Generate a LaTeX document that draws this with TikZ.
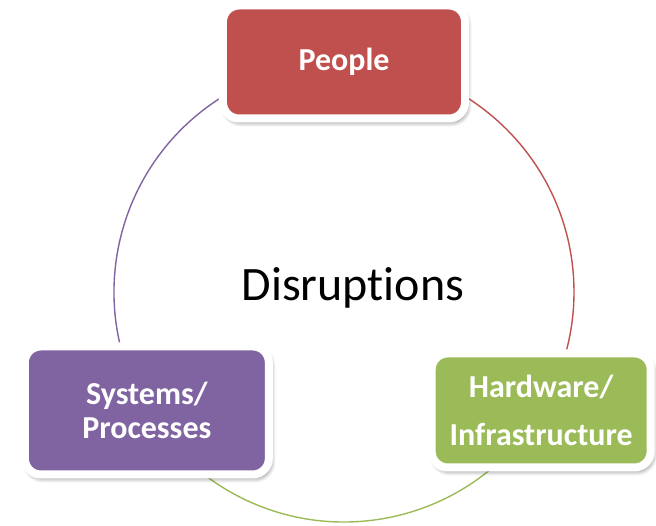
\documentclass[tikz,border=0pt]{standalone}
\usepackage{fontspec}
\setmainfont{Carlito}[RawFeature={-liga}]
\usetikzlibrary{shadows.blur,backgrounds}
\definecolor{pplred}{HTML}{C0504D}
\definecolor{hwgreen}{HTML}{9BBB59}
\definecolor{syspurple}{HTML}{8064A2}
\tikzset{
  box/.style={draw=white, line width=8pt, rounded corners=16pt, text=white,
    font=\bfseries\fontsize{32}{34}\selectfont, align=center,
    blur shadow={shadow xshift=2pt, shadow yshift=-3.5pt, shadow blur radius=5pt, shadow blur steps=8, shadow opacity=55}},
  ring/.style={line width=1.4pt}
}
\begin{document}
\begin{tikzpicture}[x=1pt, y=1pt]
      \useasboundingbox (-344,-233) rectangle (312,292);
      \draw
        (90:230) node[box, fill=pplred, minimum width=242, minimum height=113] (people){People}
        (-31:230) node[box, fill=hwgreen, minimum width=219, minimum height=114] (hardware){Hardware/\\[14pt]Infrastructure}
        (211:230) node[box, fill=syspurple, minimum width=244, minimum height=128] (systems){Systems/\\Processes}
        (9,4) node[font=\fontsize{48}{52}\selectfont] (disruptions){Disruptions};
      \begin{scope}[on background layer]
        \draw[ring, pplred] (people.center) arc[start angle=90, end angle=-31, radius=230];
        \draw[ring, hwgreen] (hardware.center) arc[start angle=-31, end angle=-149, radius=230];
        \draw[ring, syspurple] (systems.center) arc[start angle=211, end angle=90, radius=230];
      \end{scope}
    \end{tikzpicture}
\end{document}
